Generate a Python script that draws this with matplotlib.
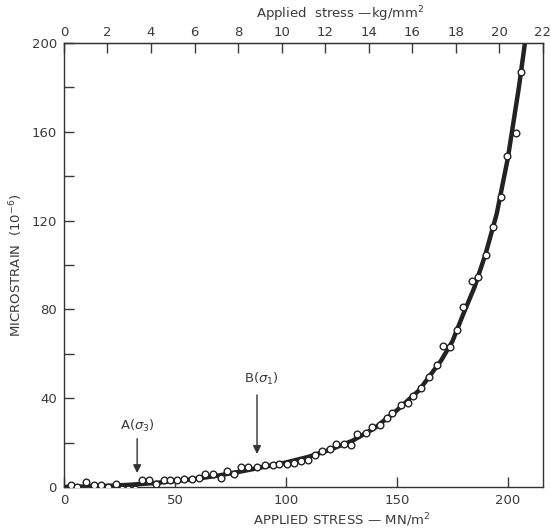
import numpy as np
import matplotlib.pyplot as plt
from matplotlib.ticker import MultipleLocator

# measured points (MN/m^2, microstrain)
stress = [3.2, 6, 10, 12, 13.5, 16.5, 20, 23.5, 26, 29, 32, 35, 38.5, 41.5, 45, 48,
          51, 54, 57.5, 61, 63.5, 67, 71, 73.5, 76.5, 80, 83, 87, 90.5, 94, 97,
          100.5, 103.5, 107, 110, 113, 116.5, 120, 122.5, 126, 129.5, 132, 136,
          139, 142.5, 145.5, 148, 152, 155, 157.5, 161, 164.5, 168, 171, 174,
          177, 180, 184, 186.5, 190, 193.5, 197, 199.5, 203.5, 206]
strain = [1, 0, 2, -2, 1, 1, 0, 1.5, -1, -1, -1, 3, 3, 1.5, 3, 3,
          3, 3.5, 3.5, 4, 6, 6, 4, 7, 6, 9, 9, 9, 10, 10, 10.5,
          10.5, 11, 11.5, 12, 14.5, 16, 17, 19.5, 19.5, 19, 24, 24.5,
          27, 28, 31, 33.5, 37, 38, 41, 44.5, 49.5, 55, 63.5, 63,
          70.5, 81, 93, 94.5, 104.5, 117, 130.5, 149, 159.5, 187]

# fitted curve as drawn
curve_x = [0, 10, 20, 30, 40, 50, 60, 70, 80, 90, 100, 110, 120, 130, 140, 150,
           160, 170, 175, 180, 185, 190, 195, 200, 205, 208]
curve_y = [0, 0.2, 0.5, 1, 1.7, 2.6, 3.7, 5.2, 7, 9, 11, 13.5, 16.8, 20.8, 26.5, 34.5,
           43.5, 57, 65.5, 78, 90, 105, 123, 148, 180, 202]

KG = 9.80665  # MN/m^2 per kg/mm^2
txt = '#3a3a3a'

fig = plt.figure(figsize=(5.51, 5.31), dpi=100)
ax = fig.add_axes([0.116, 0.083, 0.869, 0.836])

ax.plot(curve_x, curve_y, color='#222222', lw=3.2, solid_capstyle='round', zorder=2)
ax.plot(stress, strain, 'o', ms=4.8, mfc='white', mec='#222222', mew=1, zorder=3)

ax.set_xlim(0, 22 * KG)
ax.set_ylim(0, 200)
ax.xaxis.set_major_locator(MultipleLocator(50))
ax.yaxis.set_major_locator(MultipleLocator(40))
ax.yaxis.set_minor_locator(MultipleLocator(20))
ax.tick_params(direction='in', length=7, width=1, colors=txt, labelsize=9.5, pad=5)
ax.tick_params(which='minor', direction='in', length=7, width=1, color=txt)
for s in ax.spines.values():
    s.set_color('#333333')
    s.set_linewidth(1)

top = ax.secondary_xaxis('top', functions=(lambda v: v / KG, lambda v: v * KG))
top.set_xticks(np.arange(0, 23, 2))
top.tick_params(direction='in', length=7, width=1, colors=txt, labelsize=9.5, pad=3)
fig.text(0.617, 0.974, 'Applied  stress —kg/mm$^2$', ha='center', va='center',
         color=txt, fontsize=9.5)

ax.set_xlabel('APPLIED STRESS — MN/m$^2$', color=txt, fontsize=9.5, labelpad=2)
ax.xaxis.set_label_coords(0.58, -0.055)
ax.set_ylabel('MICROSTRAIN  (10$^{-6}$)', color=txt, fontsize=9.5, labelpad=5)

arr = dict(arrowstyle='-|>', color='#333333', lw=1, mutation_scale=12)
ax.annotate('', xy=(33, 5), xytext=(33, 23), arrowprops=arr)
ax.text(33, 27.5, r'A($\sigma_3$)', ha='center', va='center', color=txt, fontsize=9.5)
ax.annotate('', xy=(87, 13.6), xytext=(87, 42.7), arrowprops=arr)
ax.text(89, 48.5, r'B($\sigma_1$)', ha='center', va='center', color=txt, fontsize=9.5)

fig.savefig('out.png', dpi=100)
